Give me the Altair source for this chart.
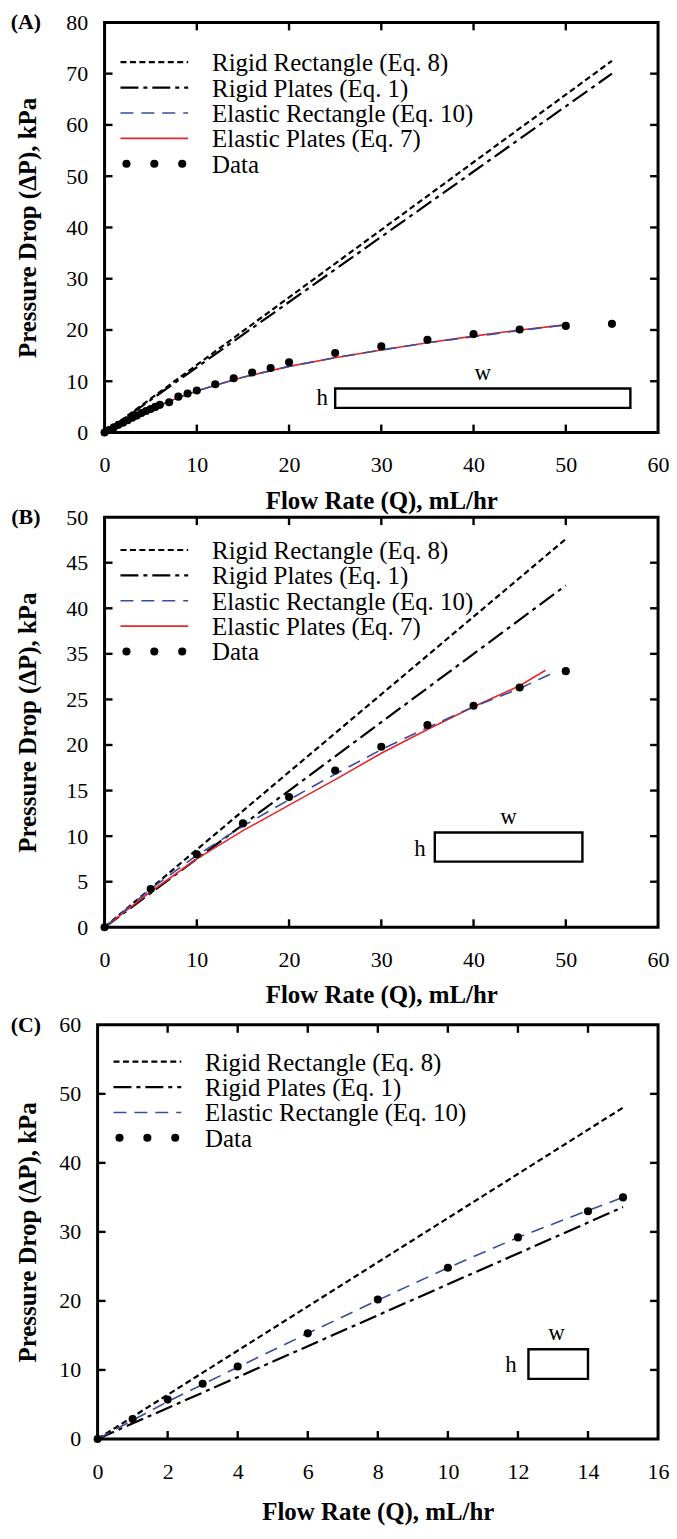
import altair as alt
import pandas as pd

FONT = "Liberation Serif"
WT = 563   # group width (frame of C spans it all, A/B frames start 7 px in)
H = 412

# ---------------- data: panel A ----------------
A_rigid_rect_Q = [0, 55]
A_rigid_rect_P = [0, 72.5]
A_rigid_plates_Q = [0, 55]
A_rigid_plates_P = [0, 70.0]
A_elastic_rect_Q = [0, 2, 4, 6, 8, 10, 12, 15, 20, 25, 30, 35, 40, 45, 50]
A_elastic_rect_P = [0, 1.9, 3.7, 5.3, 6.8, 8.1, 9.2, 10.8, 12.9, 14.6, 16.1, 17.5, 18.7, 19.9, 21.0]
A_elastic_plates_Q = [0, 2, 4, 6, 8, 10, 12, 15, 20, 25, 30, 35, 40, 45, 50]
A_elastic_plates_P = [0, 1.9, 3.7, 5.3, 6.8, 8.1, 9.2, 10.8, 12.9, 14.6, 16.1, 17.5, 18.8, 20.0, 21.0]
A_data_Q = [0, 0.5, 1, 1.5, 2, 2.5, 3, 3.5, 4, 4.5, 5, 5.5, 6, 7, 8, 9, 10, 12, 14, 16, 18, 20,
            25, 30, 35, 40, 45, 50, 55]
A_data_P = [0, 0.5, 1.0, 1.5, 1.9, 2.4, 2.9, 3.3, 3.8, 4.2, 4.6, 5.0, 5.4, 5.9, 7.0, 7.6, 8.2, 9.4,
            10.6, 11.7, 12.6, 13.7, 15.5, 16.8, 18.1, 19.2, 20.1, 20.8, 21.2]
A_inset_Q = [25.0, 57.0]
A_inset_P = [4.8, 8.6]
A_w_pos = [41.0, 11.6]
A_h_pos = [23.6, 6.7]
A_xticks = [0, 10, 20, 30, 40, 50, 60]
A_yticks = [0, 10, 20, 30, 40, 50, 60, 70, 80]

# ---------------- data: panel B (axis labels as printed: 30 is skipped) ----------------
B_rigid_rect_Q = [0, 50]
B_rigid_rect_P = [0, 42.6]
B_rigid_plates_Q = [0, 50]
B_rigid_plates_P = [0, 37.5]
B_elastic_rect_Q = [0, 5, 10, 15, 20, 25, 30, 35, 40, 45, 48.8]
B_elastic_rect_P = [0, 4.2, 7.9, 11.1, 14.0, 16.8, 19.5, 21.9, 24.2, 26.2, 28.0]
B_elastic_plates_Q = [0, 5, 10, 15, 20, 25, 30, 35, 40, 45, 47.8]
B_elastic_plates_P = [0, 3.9, 7.5, 10.6, 13.4, 16.2, 19.1, 21.7, 24.2, 26.5, 28.2]
B_data_Q = [0, 5, 10, 15, 20, 25, 30, 35, 40, 45, 50]
B_data_P = [0, 4.2, 8.0, 11.4, 14.3, 17.2, 19.8, 22.2, 24.3, 26.3, 28.1]
B_inset_Q = [35.8, 51.8]
B_inset_P = [7.2, 10.4]
B_w_pos = [43.8, 12.1]
B_h_pos = [34.2, 8.6]
B_xticks = [0, 10, 20, 30, 40, 50, 60]
B_yticks = [0, 5, 10, 15, 20, 25, 30, 35, 40, 45]
B_ylabels = ["0", "5", "10", "15", "20", "25", "35", "40", "45", "50"]

# ---------------- data: panel C ----------------
C_rigid_rect_Q = [0, 15]
C_rigid_rect_P = [0, 48.0]
C_rigid_plates_Q = [0, 15]
C_rigid_plates_P = [0, 33.6]
C_elastic_rect_Q = [0, 1, 2, 3, 4, 6, 8, 10, 12, 14, 15]
C_elastic_rect_P = [0, 2.7, 5.4, 7.9, 10.4, 15.3, 20.1, 24.8, 29.2, 33.1, 35.0]
C_data_Q = [0, 1, 2, 3, 4, 6, 8, 10, 12, 14, 15]
C_data_P = [0, 2.9, 5.7, 8.0, 10.5, 15.3, 20.2, 24.8, 29.2, 33.0, 35.0]
C_inset_Q = [12.3, 14.0]
C_inset_P = [8.7, 13.0]
C_w_pos = [13.1, 15.4]
C_h_pos = [11.8, 10.7]
C_xticks = [0, 2, 4, 6, 8, 10, 12, 14, 16]
C_yticks = [0, 10, 20, 30, 40, 50, 60]

LEGEND_ORDER = ["Rigid Rectangle (Eq. 8)", "Rigid Plates (Eq. 1)",
                "Elastic Rectangle (Eq. 10)", "Elastic Plates (Eq. 7)", "Data"]

STYLES = {
    "Rigid Rectangle (Eq. 8)": dict(color="black", strokeDash=[6, 3.5], strokeWidth=2.2),
    "Rigid Plates (Eq. 1)": dict(color="black", strokeDash=[18, 5, 4, 5], strokeWidth=2.2),
    "Elastic Rectangle (Eq. 10)": dict(color="#3b4c9e", strokeDash=[13, 8], strokeWidth=1.6),
    "Elastic Plates (Eq. 7)": dict(color="#e8262b", strokeWidth=1.6),
}

ONE = pd.DataFrame({"k": [0]})


def make_panel(tag, series, dQ, dP, xticks, yticks, inset_Q, inset_P, w_pos, h_pos,
               legend_y0, height=H, ylabels=None, x_left=0, top_pad=0,
               ylab_pad=17, ytitle_pad=25, xlab_pad=22, xtitle_pad=13):
    htot = height + top_pad
    xs = alt.Scale(domain=[xticks[0], xticks[-1]], nice=False, range=[x_left, WT])
    ys = alt.Scale(domain=[yticks[0], yticks[-1]], nice=False, range=[htot, top_pad])
    xaxis = alt.Axis(values=xticks, title="Flow Rate (Q), mL/hr", ticks=False, tickSize=0,
                     domain=False, grid=False, labelFlush=False, labelOverlap=False,
                     labelPadding=xlab_pad, titlePadding=xtitle_pad, format="d")
    yargs = dict(values=yticks, title="Pressure Drop (\u0394P), kPa", ticks=False, tickSize=0,
                 domain=False, grid=False, labelFlush=False, labelOverlap=False,
                 labelPadding=ylab_pad, titlePadding=ytitle_pad, format="d")
    if ylabels is not None:
        mapping = ", ".join(f"{v}: '{t}'" for v, t in zip(yticks, ylabels))
        yargs["labelExpr"] = f"({{{mapping}}})[datum.value]"
    yaxis = alt.Axis(**yargs)
    X = alt.X("Q:Q", scale=xs, axis=xaxis)
    Y = alt.Y("dP:Q", scale=ys, axis=yaxis)

    layers = []
    present = [s[0] for s in series]
    for name, Q, P in series:
        df = pd.DataFrame({"Q": Q, "dP": P})
        layers.append(alt.Chart(df).mark_line(clip=False, **STYLES[name]).encode(x=X, y=Y))
    dd = pd.DataFrame({"Q": dQ, "dP": dP})
    layers.append(alt.Chart(dd).mark_circle(size=66, color="black", opacity=1).encode(x=X, y=Y))

    # inner tick marks on all four sides
    xt = pd.DataFrame({"Q": xticks[1:-1]})
    yt = pd.DataFrame({"dP": yticks[1:-1]})
    tk = dict(color="black", strokeWidth=2.4)
    layers.append(alt.Chart(xt).mark_rule(**tk).encode(
        x=X, x2=alt.X2("Q"), y=alt.value(htot), y2=alt.value(htot - 8)))
    layers.append(alt.Chart(xt).mark_rule(**tk).encode(
        x=X, x2=alt.X2("Q"), y=alt.value(top_pad), y2=alt.value(top_pad + 8)))
    layers.append(alt.Chart(yt).mark_rule(**tk).encode(
        y=Y, y2=alt.Y2("dP"), x=alt.value(x_left), x2=alt.value(x_left + 8)))
    layers.append(alt.Chart(yt).mark_rule(**tk).encode(
        y=Y, y2=alt.Y2("dP"), x=alt.value(WT), x2=alt.value(WT - 8)))

    # plot frame
    layers.append(alt.Chart(ONE).mark_rect(fillOpacity=0, stroke="black", strokeWidth=3).encode(
        x=alt.value(x_left), x2=alt.value(WT), y=alt.value(top_pad), y2=alt.value(htot)))

    # channel cross-section inset
    ins = pd.DataFrame({"Q": [inset_Q[0]], "Q2": [inset_Q[1]], "dP": [inset_P[0]], "dP2": [inset_P[1]]})
    layers.append(alt.Chart(ins).mark_rect(fillOpacity=0, stroke="black", strokeWidth=2.4)
                  .encode(x=X, x2="Q2:Q", y=Y, y2="dP2:Q"))
    lab = pd.DataFrame({"Q": [w_pos[0], h_pos[0]], "dP": [w_pos[1], h_pos[1]], "t": ["w", "h"]})
    layers.append(alt.Chart(lab).mark_text(font=FONT, fontSize=23, color="black", baseline="middle")
                  .encode(x=X, y=Y, text="t:N"))

    # legend drawn inside the plot
    names = [n for n in LEGEND_ORDER if n in present or n == "Data"]
    for i, name in enumerate(names):
        yy = top_pad + legend_y0 + i * 25.5
        if name == "Data":
            for px in (22, 50, 78):
                layers.append(alt.Chart(ONE).mark_circle(size=66, color="black", opacity=1)
                              .encode(x=alt.value(x_left + px), y=alt.value(yy)))
        else:
            layers.append(alt.Chart(ONE).mark_rule(**STYLES[name])
                          .encode(x=alt.value(x_left + 16), x2=alt.value(x_left + 84), y=alt.value(yy)))
        layers.append(alt.Chart(ONE).mark_text(font=FONT, fontSize=25, align="left", baseline="middle",
                                               color="black")
                      .encode(x=alt.value(x_left + 108), y=alt.value(yy + 1), text=alt.value(name)))

    layers.append(alt.Chart(ONE).mark_text(font=FONT, fontSize=22, fontWeight="bold", align="center",
                                           baseline="middle", color="black")
                  .encode(x=alt.value(-72), y=alt.value(top_pad), text=alt.value(tag)))

    return alt.layer(*layers).properties(width=WT, height=htot)


panelA = make_panel(
    "(A)",
    [("Rigid Rectangle (Eq. 8)", A_rigid_rect_Q, A_rigid_rect_P),
     ("Rigid Plates (Eq. 1)", A_rigid_plates_Q, A_rigid_plates_P),
     ("Elastic Plates (Eq. 7)", A_elastic_plates_Q, A_elastic_plates_P),
     ("Elastic Rectangle (Eq. 10)", A_elastic_rect_Q, A_elastic_rect_P)],
    A_data_Q, A_data_P, A_xticks, A_yticks, A_inset_Q, A_inset_P, A_w_pos, A_h_pos, legend_y0=40,
    x_left=7, ylab_pad=10, ytitle_pad=25)

panelB = make_panel(
    "(B)",
    [("Rigid Rectangle (Eq. 8)", B_rigid_rect_Q, B_rigid_rect_P),
     ("Rigid Plates (Eq. 1)", B_rigid_plates_Q, B_rigid_plates_P),
     ("Elastic Plates (Eq. 7)", B_elastic_plates_Q, B_elastic_plates_P),
     ("Elastic Rectangle (Eq. 10)", B_elastic_rect_Q, B_elastic_rect_P)],
    B_data_Q, B_data_P, B_xticks, B_yticks, B_inset_Q, B_inset_P, B_w_pos, B_h_pos, legend_y0=33,
    ylabels=B_ylabels, x_left=7, ylab_pad=10, ytitle_pad=25)

panelC = make_panel(
    "(C)",
    [("Rigid Rectangle (Eq. 8)", C_rigid_rect_Q, C_rigid_rect_P),
     ("Rigid Plates (Eq. 1)", C_rigid_plates_Q, C_rigid_plates_P),
     ("Elastic Rectangle (Eq. 10)", C_elastic_rect_Q, C_elastic_rect_P)],
    C_data_Q, C_data_P, C_xticks, C_yticks, C_inset_Q, C_inset_P, C_w_pos, C_h_pos, legend_y0=37,
    height=416, top_pad=13, x_left=0, ylab_pad=17, ytitle_pad=18, xlab_pad=23, xtitle_pad=17)

chart = alt.vconcat(panelA, panelB, panelC, spacing=85, bounds="flush").properties(
    padding={"left": 2, "top": 0, "right": 0, "bottom": 0}
).configure_view(
    strokeWidth=0
).configure_axis(
    labelFont=FONT, labelFontSize=22, labelColor="black",
    titleFont=FONT, titleFontSize=25, titleFontWeight="bold", titleColor="black"
)

chart.save("out.html", embed_options={"renderer": "svg", "actions": False})
